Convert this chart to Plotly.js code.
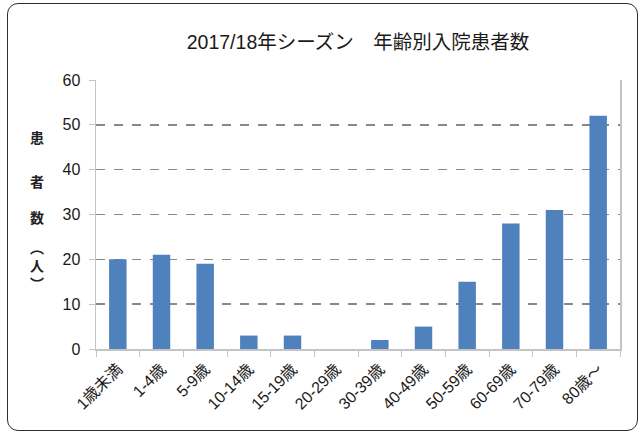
<!DOCTYPE html>
<html>
<head>
<meta charset="utf-8">
<script src="https://cdn.plot.ly/plotly-3.0.1.min.js"></script>
<style>
  html, body { margin: 0; padding: 0; background: #ffffff; }
  #wrap { position: relative; width: 642px; height: 434px; }
  #frame { position: absolute; left: 7px; top: 3px; width: 629px; height: 426px;
           border: 1.6px solid #2e2e2e; border-radius: 11px; pointer-events: none; }
  #chart { position: absolute; left: 0; top: 0; width: 642px; height: 434px; }
</style>
</head>
<body>
<div id="wrap">
  <div id="chart"></div>
  <div id="frame"></div>
</div>
<script>
const chartTitle = "2017/18年シーズン　年齢別入院患者数";
const categories = ["1歳未満", "1-4歳", "5-9歳", "10-14歳", "15-19歳", "20-29歳",
                    "30-39歳", "40-49歳", "50-59歳", "60-69歳", "70-79歳", "80歳～"];
const patients = [20, 21, 19, 3, 3, 0, 2, 5, 15, 28, 31, 52];
const yTickValues = [0, 10, 20, 30, 40, 50, 60];
const yTitleParts = ["患", "者", "数", "︵<br>人<br>︶"];

const FONT = "Liberation Sans, Arial, Noto Sans CJK JP, sans-serif";
const CJK = "Noto Sans CJK JP, sans-serif";

const trace = {
  type: "bar",
  x: categories,
  y: patients,
  marker: { color: "#4F81BD", line: { width: 0 } },
  hoverinfo: "x+y"
};

const yTitleY = [0.788, 0.625, 0.492, 0.312];
const annotations = yTitleParts.map((t, i) => ({
  text: t, xref: "paper", yref: "paper", x: -0.113, y: yTitleY[i],
  xanchor: "center", yanchor: "middle", showarrow: false,
  font: { family: CJK, size: 14, weight: 700, color: "#222" }
}));

const layout = {
  width: 642, height: 434,
  paper_bgcolor: "rgba(0,0,0,0)", plot_bgcolor: "#ffffff",
  margin: { l: 96, r: 22, t: 80, b: 85, autoexpand: false },
  font: { family: FONT, color: "#1a1a1a" },
  title: {
    text: chartTitle, xref: "paper", x: 0.5, xanchor: "center",
    yref: "container", y: 0.902, yanchor: "middle",
    font: { family: FONT, size: 19.5, color: "#1a1a1a" }
  },
  bargap: 0.6,
  showlegend: false,
  xaxis: {
    type: "category",
    tickangle: -45,
    tickfont: { family: FONT, size: 16, color: "#1a1a1a" },
    showline: true, linecolor: "#c4c4c4", linewidth: 1.5,
    ticks: "outside", tickson: "boundaries", ticklen: 6, tickcolor: "#c4c4c4", tickwidth: 1,
    ticklabelstandoff: 3,
    showgrid: false, zeroline: false, automargin: false
  },
  yaxis: {
    range: [0, 60],
    tickvals: yTickValues,
    tickfont: { family: FONT, size: 16, color: "#1a1a1a" },
    showline: true, linecolor: "#c4c4c4", linewidth: 1.5, mirror: true,
    ticks: "outside", ticklen: 6, tickcolor: "#c4c4c4", tickwidth: 1,
    ticklabelstandoff: 5,
    showgrid: true, gridcolor: "#888888", gridwidth: 1.4, griddash: "dash",
    zeroline: false, automargin: false
  },
  annotations: annotations
};

Plotly.newPlot("chart", [trace], layout, { displayModeBar: false, staticPlot: true });
</script>
</body>
</html>
